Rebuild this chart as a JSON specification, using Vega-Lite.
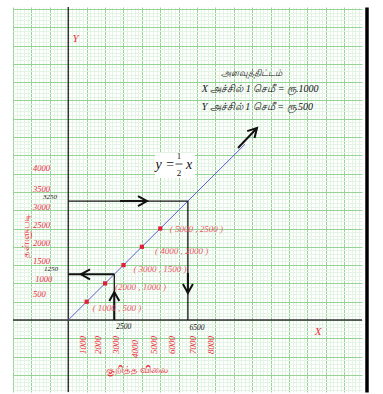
{
  "$schema": "https://vega.github.io/schema/vega-lite/v6.json",
  "width": 349,
  "height": 385,
  "autosize": {"type": "none"},
  "padding": {"left": 13, "top": 7, "right": 21, "bottom": 2},
  "background": "white",
  "config": {"view": {"stroke": null}},
  "encoding": {
    "x": {"field": "x", "type": "quantitative",
      "scale": {"domain": [-3005, 15962], "nice": false, "zero": false},
      "axis": {"orient": "bottom", "domain": false, "ticks": false, "labels": false, "title": null,
        "values": [-3000,-2800,-2600,-2400,-2200,-2000,-1800,-1600,-1400,-1200,-1000,-800,-600,-400,-200,0,200,400,600,800,1000,1200,1400,1600,1800,2000,2200,2400,2600,2800,3000,3200,3400,3600,3800,4000,4200,4400,4600,4800,5000,5200,5400,5600,5800,6000,6200,6400,6600,6800,7000,7200,7400,7600,7800,8000,8200,8400,8600,8800,9000,9200,9400,9600,9800,10000,10200,10400,10600,10800,11000,11200,11400,11600,11800,12000,12200,12400,12600,12800,13000,13200,13400,13600,13800,14000,14200,14400,14600,14800,15000,15200,15400,15600,15800],
        "grid": true,
        "gridColor": {"condition": {"test": "datum.value % 1000 === 0", "value": "#96d496"}, "value": "#e4f4e4"},
        "gridWidth": 1}},
    "y": {"field": "y", "type": "quantitative",
      "scale": {"domain": [-1967, 8552], "nice": false, "zero": false},
      "axis": {"orient": "right", "offset": 4.5, "domain": true, "domainColor": "#000", "domainWidth": 3.5, "ticks": false, "labels": false, "title": null,
        "values": [-1900,-1800,-1700,-1600,-1500,-1400,-1300,-1200,-1100,-1000,-900,-800,-700,-600,-500,-400,-300,-200,-100,0,100,200,300,400,500,600,700,800,900,1000,1100,1200,1300,1400,1500,1600,1700,1800,1900,2000,2100,2200,2300,2400,2500,2600,2700,2800,2900,3000,3100,3200,3300,3400,3500,3600,3700,3800,3900,4000,4100,4200,4300,4400,4500,4600,4700,4800,4900,5000,5100,5200,5300,5400,5500,5600,5700,5800,5900,6000,6100,6200,6300,6400,6500,6600,6700,6800,6900,7000,7100,7200,7300,7400,7500,7600,7700,7800,7900,8000,8100,8200,8300,8400,8500],
        "grid": true,
        "gridColor": {"condition": {"test": "datum.value % 500 === 0", "value": "#96d496"}, "value": "#e4f4e4"},
        "gridWidth": 1}}
  },
  "layer": [
    {
      "data": {"values": [
        {"x": -3005, "y": 0, "x2": 15962, "y2": 0},
        {"x": 0, "y": -1967, "x2": 0, "y2": 8552}
      ]},
      "mark": {"type": "rule", "color": "#333", "strokeWidth": 1.5},
      "encoding": {"x2": {"field": "x2"}, "y2": {"field": "y2"}}
    },
    {
      "data": {"values": [{"x": 0, "y": 0}, {"x": 9600, "y": 4800}]},
      "mark": {"type": "line", "color": "#5b5bd6", "strokeWidth": 1}
    },
    {
      "data": {"values": [
        {"x": 0, "y": 3250, "x2": 6500, "y2": 3250},
        {"x": 6500, "y": 3250, "x2": 6500, "y2": 0},
        {"x": 2500, "y": 1250, "x2": 2500, "y2": 0}
      ]},
      "mark": {"type": "rule", "color": "#111", "strokeWidth": 1.3},
      "encoding": {"x2": {"field": "x2"}, "y2": {"field": "y2"}}
    },
    {
      "data": {"values": [
        {"x": 2810, "y": 3250, "x2": 4277, "y2": 3250},
        {"x": 6500, "y": 1284, "x2": 6500, "y2": 738},
        {"x": 0, "y": 1250, "x2": 2500, "y2": 1250},
        {"x": 2500, "y": 0, "x2": 2500, "y2": 765},
        {"x": 9223, "y": 4699, "x2": 10255, "y2": 5246}
      ]},
      "mark": {"type": "rule", "color": "#111", "strokeWidth": 2},
      "encoding": {"x2": {"field": "x2"}, "y2": {"field": "y2"}}
    },
    {
      "data": {"values": [
        {"x": 4277, "y": 3250, "dir": "right"},
        {"x": 6500, "y": 738, "dir": "down"},
        {"x": 690, "y": 1250, "dir": "left"},
        {"x": 2500, "y": 765, "dir": "up"},
        {"x": 10255, "y": 5246, "dir": "diag"}
      ]},
      "layer": [
        {"transform": [{"filter": "datum.dir === 'right'"}],
         "mark": {"type": "point", "shape": "M-1.8,-1L0,0L-1.8,1", "filled": false, "color": "#111", "strokeWidth": 2, "size": 100, "angle": 0, "opacity": 1}},
        {"transform": [{"filter": "datum.dir === 'down'"}],
         "mark": {"type": "point", "shape": "M-1.8,-1L0,0L-1.8,1", "filled": false, "color": "#111", "strokeWidth": 2, "size": 100, "angle": 90, "opacity": 1}},
        {"transform": [{"filter": "datum.dir === 'left'"}],
         "mark": {"type": "point", "shape": "M-1.8,-1L0,0L-1.8,1", "filled": false, "color": "#111", "strokeWidth": 2, "size": 100, "angle": 180, "opacity": 1}},
        {"transform": [{"filter": "datum.dir === 'up'"}],
         "mark": {"type": "point", "shape": "M-1.8,-1L0,0L-1.8,1", "filled": false, "color": "#111", "strokeWidth": 2, "size": 100, "angle": 270, "opacity": 1}},
        {"transform": [{"filter": "datum.dir === 'diag'"}],
         "mark": {"type": "point", "shape": "M-1.8,-1L0,0L-1.8,1", "filled": false, "color": "#111", "strokeWidth": 2, "size": 100, "angle": -47, "opacity": 1}}
      ]
    },
    {
      "data": {"values": [
        {"x": 1000, "y": 500}, {"x": 2000, "y": 1000}, {"x": 3000, "y": 1500}, {"x": 4000, "y": 2000}, {"x": 5000, "y": 2500}
      ]},
      "mark": {"type": "square", "color": "#e0203a", "size": 18, "opacity": 1}
    },
    {
      "data": {"values": [
        {"x": 2647, "y": 336, "text": "( 1000 , 500 )"},
        {"x": 3924, "y": 902, "text": "(2000 , 1000 )"},
        {"x": 4984, "y": 1393, "text": "( 3000 , 1500 )"},
        {"x": 6163, "y": 1885, "text": "( 4000 , 2000 )"},
        {"x": 6957, "y": 2478, "text": "( 5000 , 2500 )"}
      ]},
      "mark": {"type": "text", "font": "Liberation Serif", "fontStyle": "italic", "fontSize": 9, "color": "#e85a66", "align": "center", "baseline": "middle"},
      "encoding": {"text": {"field": "text"}}
    },
    {
      "data": {"values": [
        {"x": -1920, "y": 4161, "text": "4000"},
        {"x": -1920, "y": 3579, "text": "3500"},
        {"x": -1920, "y": 3096, "text": "3000"},
        {"x": -1920, "y": 2596, "text": "2500"},
        {"x": -1920, "y": 2112, "text": "2000"},
        {"x": -1920, "y": 1612, "text": "1500"},
        {"x": -1800, "y": 1112, "text": "1000"},
        {"x": -1920, "y": 710, "text": "500"}
      ]},
      "mark": {"type": "text", "font": "Liberation Serif", "fontStyle": "italic", "fontSize": 8.5, "color": "#e8303c", "align": "left", "baseline": "middle"},
      "encoding": {"text": {"field": "text"}}
    },
    {
      "data": {"values": [
        {"x": 783, "y": -683, "text": "1000"},
        {"x": 1614, "y": -683, "text": "2000"},
        {"x": 2592, "y": -683, "text": "3000"},
        {"x": 3625, "y": -790, "text": "4000"},
        {"x": 4658, "y": -683, "text": "5000"},
        {"x": 5636, "y": -683, "text": "6000"},
        {"x": 6777, "y": -683, "text": "7000"},
        {"x": 7755, "y": -683, "text": "8000"}
      ]},
      "mark": {"type": "text", "font": "Liberation Serif", "fontStyle": "italic", "fontSize": 9, "color": "#e8303c", "align": "center", "baseline": "middle", "angle": 270},
      "encoding": {"text": {"field": "text"}}
    },
    {
      "data": {"values": [
        {"x": -614, "y": 3369, "text": "3250", "a": "right"},
        {"x": -560, "y": 1393, "text": "1250", "a": "right"},
        {"x": 3011, "y": -183, "text": "2500", "a": "center"},
        {"x": 6995, "y": -219, "text": "6500", "a": "center"}
      ]},
      "layer": [
        {"transform": [{"filter": "datum.a === 'right'"}],
         "mark": {"type": "text", "font": "Liberation Serif", "fontStyle": "italic", "fontSize": 7, "color": "#111", "align": "right", "baseline": "middle"},
         "encoding": {"text": {"field": "text"}}},
        {"transform": [{"filter": "datum.a === 'center'"}],
         "mark": {"type": "text", "font": "Liberation Serif", "fontStyle": "italic", "fontSize": 7.5, "color": "#111", "align": "center", "baseline": "middle"},
         "encoding": {"text": {"field": "text"}}}
      ]
    },
    {
      "data": {"values": [
        {"x": 13570, "y": -328, "text": "X"},
        {"x": 401, "y": 7669, "text": "Y"}
      ]},
      "mark": {"type": "text", "font": "Liberation Serif", "fontStyle": "italic", "fontSize": 11, "color": "#e8303c", "align": "center", "baseline": "middle"},
      "encoding": {"text": {"field": "text"}}
    },
    {
      "data": {"values": [
        {"x": 3734, "y": -1366, "text": "குறித்த விலை", "r": 0},
        {"x": -2296, "y": 2295, "text": "தள்ளுபடி", "r": 270}
      ]},
      "layer": [
        {"transform": [{"filter": "datum.r === 0"}],
         "mark": {"type": "text", "fontSize": 10, "color": "#e8303c", "align": "center", "baseline": "middle"},
         "encoding": {"text": {"field": "text"}}},
        {"transform": [{"filter": "datum.r === 270"}],
         "mark": {"type": "text", "fontSize": 10, "color": "#e8303c", "align": "center", "baseline": "middle", "angle": 270},
         "encoding": {"text": {"field": "text"}}}
      ]
    },
    {
      "data": {"values": [
        {"x": 9967, "y": 6749, "text": "அளவுத்திட்டம்", "a": "center"},
        {"x": 7250, "y": 6311, "text": "X அச்சில் 1 செமீ = ரூ.1000", "a": "left"},
        {"x": 7250, "y": 5820, "text": "Y அச்சில் 1 செமீ = ரூ.500", "a": "left"}
      ]},
      "layer": [
        {"transform": [{"filter": "datum.a === 'center'"}],
         "mark": {"type": "text", "font": "Liberation Serif", "fontStyle": "italic", "fontSize": 9, "color": "#111", "align": "center", "baseline": "middle"},
         "encoding": {"text": {"field": "text"}}},
        {"transform": [{"filter": "datum.a === 'left'"}],
         "mark": {"type": "text", "font": "Liberation Serif", "fontStyle": "italic", "fontSize": 10, "color": "#111", "align": "left", "baseline": "middle"},
         "encoding": {"text": {"field": "text"}}}
      ]
    },
    {
      "data": {"values": [{"x": 4712, "x2": 6886, "y": 3880, "y2": 4563}]},
      "mark": {"type": "rect", "color": "white", "opacity": 1},
      "encoding": {"x2": {"field": "x2"}, "y2": {"field": "y2"}}
    },
    {
      "data": {"values": [{"x": 5826, "x2": 6207, "y": 4262}]},
      "mark": {"type": "rule", "color": "#111", "strokeWidth": 0.8},
      "encoding": {"x2": {"field": "x2"}}
    },
    {
      "data": {"values": [
        {"x": 4739, "y": 4235, "text": "y =", "k": "big"},
        {"x": 6560, "y": 4235, "text": "x", "k": "bigc"},
        {"x": 6016, "y": 4481, "text": "1", "k": "small"},
        {"x": 6016, "y": 4030, "text": "2", "k": "small"}
      ]},
      "layer": [
        {"transform": [{"filter": "datum.k === 'big'"}],
         "mark": {"type": "text", "font": "Liberation Serif", "fontStyle": "italic", "fontSize": 14, "color": "#111", "align": "left", "baseline": "middle"},
         "encoding": {"text": {"field": "text"}}},
        {"transform": [{"filter": "datum.k === 'bigc'"}],
         "mark": {"type": "text", "font": "Liberation Serif", "fontStyle": "italic", "fontSize": 14, "color": "#111", "align": "center", "baseline": "middle"},
         "encoding": {"text": {"field": "text"}}},
        {"transform": [{"filter": "datum.k === 'small'"}],
         "mark": {"type": "text", "font": "Liberation Serif", "fontSize": 9, "color": "#111", "align": "center", "baseline": "middle"},
         "encoding": {"text": {"field": "text"}}}
      ]
    }
  ]
}
